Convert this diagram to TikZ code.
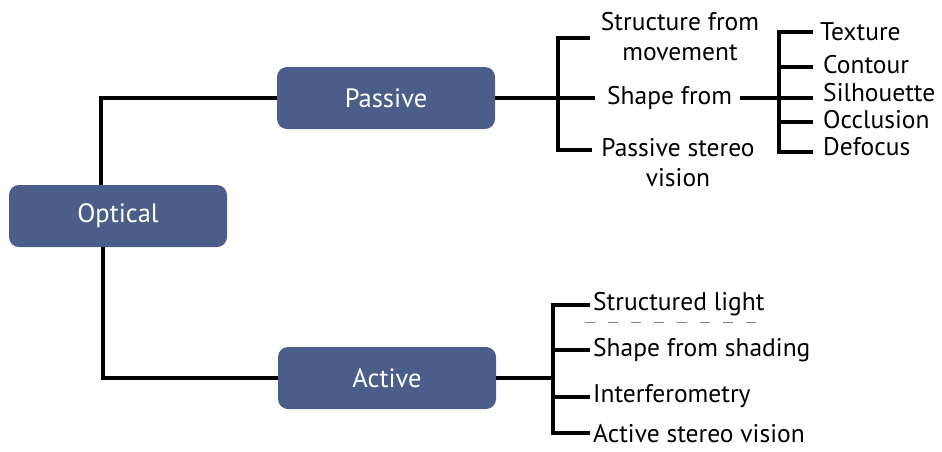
\documentclass[tikz,border=0pt]{standalone}
\usepackage{fontspec}
\setmainfont{PT Sans}
\definecolor{boxblue}{RGB}{74,94,137}
\begin{document}
\begin{tikzpicture}[x=1pt,y=-1pt,
  box/.style={rounded corners=10pt, fill=boxblue, draw=none, minimum width=218pt, minimum height=62pt, text=white, font=\fontsize{26.5}{30}\selectfont, inner sep=0pt},
  conn/.style={line width=3.6pt, black},
  leaf/.style={anchor=west, inner sep=0pt, font=\fontsize{25.5}{30}\selectfont, text=black},
  leafc/.style={anchor=center, inner sep=0pt, align=center, font=\fontsize{25.5}{30}\selectfont, text=black}]
\useasboundingbox (0,0) rectangle (942,451);
% main boxes
\node[box] (opt) at (118,216) {Optical};
\node[box] (pas) at (386,98) {Passive};
\node[box] (act) at (387,378) {Active};
% optical connectors
\draw[conn] ([xshift=92pt]opt.north west) |- (pas.west);
\draw[conn] ([xshift=94pt]opt.south west) |- (act.west);
% passive branch
\coordinate (pb) at (558,98);
\node[leafc] (sfm) at (680,37) {Structure from\\movement};
\node[leaf] (sf) at (607,98) {Shape from};
\node[leafc] (psv) at (678,163) {Passive stereo\\vision};
\coordinate (sfmE) at (590,38);
\coordinate (psvE) at (592,150);
\coordinate (sfE) at (595,98);
\draw[conn] (pas.east) -- (pb);
\draw[conn] (sfmE) -| (pb) |- (psvE);
\draw[conn] (pb) -- (sfE);
% shape from branch
\coordinate (sb) at (779,98);
\draw[conn] ([xshift=8pt]sf.east) -- (sb);
\node[leaf] (tex) at (820,32) {Texture};
\node[leaf] (con) at (823,65) {Contour};
\node[leaf] (sil) at (823,93) {Silhouette};
\node[leaf] (occ) at (823,120) {Occlusion};
\node[leaf] (def) at (823,147) {Defocus};
\coordinate (texE) at (813,32);
\coordinate (conE) at (813,67);
\coordinate (silE) at (813,98);
\coordinate (occE) at (813,122);
\coordinate (defE) at (813,152);
\draw[conn] (texE) -| (sb) |- (defE);
\draw[conn] (sb |- conE) -- (conE);
\draw[conn] (sb) -- (silE);
\draw[conn] (sb |- occE) -- (occE);
% active branch
\coordinate (ab) at (553,378);
\draw[conn] (act.east) -- (ab);
\node[leaf] (stl) at (593,304) {Structured light};
\node[leaf] (sfs) at (593,350) {Shape from shading};
\node[leaf] (itf) at (593,396) {Interferometry};
\node[leaf] (asv) at (593,434) {Active stereo vision};
\coordinate (stlE) at (590,305);
\coordinate (sfsE) at (590,350);
\coordinate (itfE) at (590,397);
\coordinate (asvE) at (590,433);
\draw[conn] (stlE) -| (ab) |- (asvE);
\draw[conn] (ab |- sfsE) -- (sfsE);
\draw[conn] (ab |- itfE) -- (itfE);
\draw[gray, line width=1pt, dash pattern=on 10pt off 13pt] (585,322) -- (767,322);
\end{tikzpicture}
\end{document}
